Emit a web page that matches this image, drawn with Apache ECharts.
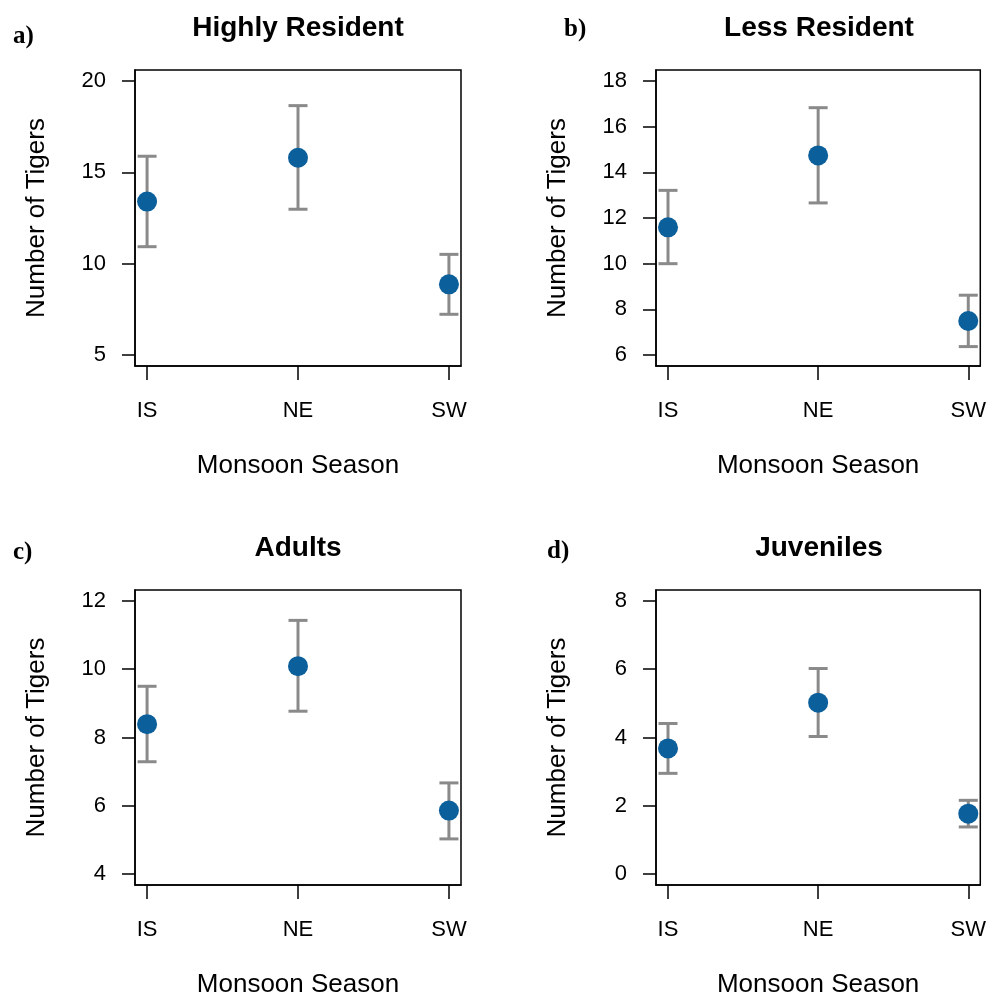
<!DOCTYPE html>
<html>
<head>
<meta charset="utf-8">
<script src="https://cdn.jsdelivr.net/npm/echarts@6/dist/echarts.min.js"></script>
<style>
html, body { margin: 0; padding: 0; background: #fff; }
#chart { width: 989px; height: 999px; }
</style>
</head>
<body>
<div id="chart"></div>
<script>
// ---- data ----
const seasons = ['IS', 'NE', 'SW'];
const panelTitles = ['Highly Resident', 'Less Resident', 'Adults', 'Juveniles'];
const panelLetters = ['a)', 'b)', 'c)', 'd)'];

const highlyMean = [13.4, 15.8, 8.87];
const highlyLow = [10.93, 12.98, 7.23];
const highlyHigh = [15.88, 18.65, 10.51];

const lessMean = [11.59, 14.74, 7.49];
const lessLow = [10.0, 12.66, 6.37];
const lessHigh = [13.21, 16.83, 8.62];

const adultsMean = [8.39, 10.09, 5.86];
const adultsLow = [7.29, 8.77, 5.03];
const adultsHigh = [9.5, 11.43, 6.67];

const juvMean = [3.68, 5.02, 1.77];
const juvLow = [2.95, 4.03, 1.38];
const juvHigh = [4.41, 6.02, 2.16];

const highlyTicks = [5, 10, 15, 20];
const lessTicks = [6, 8, 10, 12, 14, 16, 18];
const adultsTicks = [4, 6, 8, 10, 12];
const juvTicks = [0, 2, 4, 6, 8];

const yAxisName = 'Number of Tigers';
const xAxisName = 'Monsoon Season';

// ---- layout / style ----
const panels = [
  { mean: highlyMean, low: highlyLow, high: highlyHigh, ticks: highlyTicks, left: 135, top: 70, letterX: 13, letterY: 37 },
  { mean: lessMean, low: lessLow, high: lessHigh, ticks: lessTicks, left: 656, top: 70, letterX: 564, letterY: 30 },
  { mean: adultsMean, low: adultsLow, high: adultsHigh, ticks: adultsTicks, left: 135, top: 590, letterX: 13, letterY: 553 },
  { mean: juvMean, low: juvLow, high: juvHigh, ticks: juvTicks, left: 656, top: 590, letterX: 547, letterY: 552 }
];
const GW = 326, GH = 296;
const FONT = '"Liberation Sans", Arial, Helvetica, sans-serif';
const POINT = '#0b5f9b';
const BAR = '#8a8a8a';

function yRange(ticks) {
  const lo = ticks[0], hi = ticks[ticks.length - 1];
  const pad = (hi - lo) * 0.04;
  return [lo - pad, hi + pad];
}

const grids = [], xAxes = [], yAxes = [], series = [], graphics = [];
panels.forEach((p, i) => {
  grids.push({ left: p.left, top: p.top, width: GW, height: GH, show: true,
    borderColor: '#000', borderWidth: 1.5, backgroundColor: 'transparent', containLabel: false });
  xAxes.push({
    gridIndex: i, type: 'value', min: -0.08, max: 2.08, position: 'bottom',
    axisLine: { show: true, onZero: false, lineStyle: { color: '#000', width: 1.5 } },
    axisTick: { show: true, inside: false, length: 14, lineStyle: { color: '#000', width: 1.5 }, customValues: [0, 1, 2] },
    axisLabel: { customValues: [0, 1, 2], formatter: v => seasons[Math.round(v)], margin: 34,
      fontFamily: FONT, fontSize: 22, color: '#000' },
    splitLine: { show: false },
    name: xAxisName, nameLocation: 'middle', nameGap: 87,
    nameTextStyle: { fontFamily: FONT, fontSize: 26, color: '#000' }
  });
  const r = yRange(p.ticks);
  yAxes.push({
    gridIndex: i, type: 'value', min: r[0], max: r[1], position: 'left',
    axisLine: { show: true, onZero: false, lineStyle: { color: '#000', width: 1.5 } },
    axisTick: { show: true, inside: false, length: 13, lineStyle: { color: '#000', width: 1.5 }, customValues: p.ticks },
    axisLabel: { customValues: p.ticks, margin: 29, fontFamily: FONT, fontSize: 22, color: '#000' },
    splitLine: { show: false },
    name: yAxisName, nameLocation: 'middle', nameGap: 85,
    nameTextStyle: { fontFamily: FONT, fontSize: 26, color: '#000' }
  });
  series.push({
    type: 'custom', xAxisIndex: i, yAxisIndex: i, z: 2, silent: true,
    data: seasons.map((s, k) => [k, p.low[k], p.high[k]]),
    renderItem: (params, api) => {
      const x = api.value(0);
      const a = api.coord([x, api.value(1)]);
      const b = api.coord([x, api.value(2)]);
      const hw = 9.5;
      const st = { stroke: BAR, lineWidth: 3 };
      return { type: 'group', children: [
        { type: 'line', shape: { x1: a[0], y1: a[1], x2: b[0], y2: b[1] }, style: st },
        { type: 'line', shape: { x1: a[0] - hw, y1: a[1], x2: a[0] + hw, y2: a[1] }, style: st },
        { type: 'line', shape: { x1: b[0] - hw, y1: b[1], x2: b[0] + hw, y2: b[1] }, style: st }
      ]};
    }
  });
  series.push({
    type: 'scatter', xAxisIndex: i, yAxisIndex: i, z: 3, silent: true,
    symbol: 'circle', symbolSize: 20,
    itemStyle: { color: POINT, opacity: 1 },
    data: seasons.map((s, k) => [k, p.mean[k]])
  });
  graphics.push({
    type: 'text', x: p.left + GW / 2, y: p.top - 42,
    style: { text: panelTitles[i], font: 'bold 28px ' + FONT, fill: '#000', align: 'center', verticalAlign: 'middle' }
  });
  graphics.push({
    type: 'text', x: p.letterX, y: p.letterY,
    style: { text: panelLetters[i], font: 'bold 25px "Liberation Serif", "Times New Roman", serif', fill: '#000', align: 'left', verticalAlign: 'middle' }
  });
});

const chart = echarts.init(document.getElementById('chart'), null, { renderer: 'canvas' });
chart.setOption({
  animation: false,
  backgroundColor: '#fff',
  grid: grids, xAxis: xAxes, yAxis: yAxes, series: series, graphic: graphics
});
</script>
</body>
</html>
